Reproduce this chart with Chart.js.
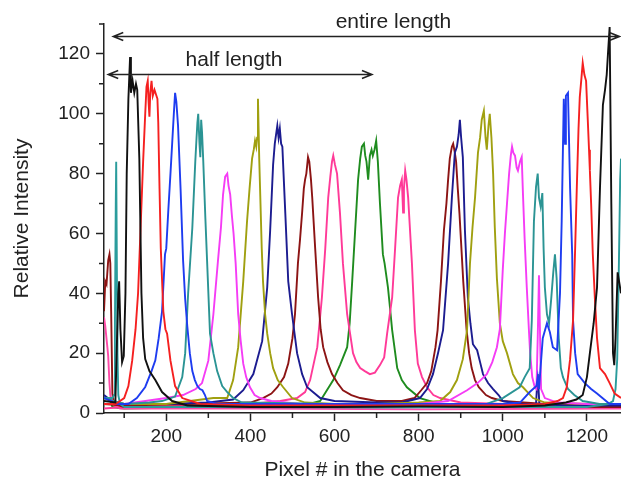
<!DOCTYPE html>
<html>
<head>
<meta charset="utf-8">
<script src="https://cdn.jsdelivr.net/npm/chart.js@4/dist/chart.umd.min.js"></script>
<style>
  html, body { margin: 0; padding: 0; background: #fff; overflow: hidden; }
  #wrap { width: 621px; height: 483px; }
</style>
</head>
<body>
<div id="wrap"><canvas id="spectra" width="621" height="483"></canvas></div>
<script>
// axis ticks
const xTickValues = [200, 400, 600, 800, 1000, 1200];
const xMinorTicks = [100, 300, 500, 700, 900, 1100];
const yTickValues = [0, 20, 40, 60, 80, 100, 120];
const yMinorTicks = [10, 30, 50, 70, 90, 110, 130];

// spectra: [pixel #, relative intensity]
const maroonEdge = [[52,34],[55,44],[58,43],[62,51],[65,53],[67,50],[69,34],[72,6.5],[76,3],[100,2],[400,2.2],[800,2],[1281,2]];
const pinkEdge = [[52,32],[55,29],[60,22],[62,19],[65,10],[67,6],[72,3],[90,1.5],[400,1.5],[800,1.2],[1281,1.5]];
const tealSpike = [[52,5],[72,5],[76,6],[78,30],[80,70],[81,84],[83,40],[84,20],[86,6],[90,3],[100,2],[300,2],[700,1.8],[1000,2],[1200,2],[1250,3],[1262,4],[1268,8],[1272,18],[1276,50],[1279,78],[1281,85]];
const black = [[52,4],[79,3.5],[83,25],[86,40],[88,44],[91,28],[95,17],[99,19],[103,40],[106,80],[110,105],[114,119],[116,107],[120,111],[124,107],[128,110],[131,108],[136,85],[141,40],[145,25],[150,18],[160,14],[174,11],[190,7],[214,4],[250,2.5],[400,2],[600,2],[800,2.2],[1000,2],[1100,2.5],[1150,3.5],[1175,4.5],[1190,6],[1200,12],[1207,20],[1216,30],[1224,42],[1231,75],[1238,103],[1243,108],[1247,113],[1250,120],[1254,129],[1258,70],[1262,20],[1265,16],[1268,25],[1273,47],[1281,40]];
const red = [[52,3],[80,3],[90,4],[100,5],[110,9],[119,17.5],[127,28],[133,40],[139,62],[145,84],[150,100],[153,109],[156,111],[158,104],[160,99],[162,107],[165,111],[168,106],[172,108],[179,105],[181,97],[184,75],[187,55],[193,34],[198,28],[202,26.5],[206,22],[210,17.5],[221,9],[238,5],[281,3],[400,2.5],[700,2.5],[1000,2.5],[1100,3],[1130,4],[1143,5],[1152,8.6],[1160,18],[1167,31],[1172,55],[1176,75.6],[1180,95],[1183,105.6],[1187,112],[1190,117],[1194,113],[1198,111],[1202,98],[1205,88],[1207,81],[1210,70],[1214,53],[1219,38],[1224,25],[1231,15],[1243,13],[1254,10],[1266,6.5],[1281,5]];
const blue = [[52,5],[70,4],[80,3],[110,3],[130,5],[150,8.7],[165,14],[174,17.6],[182,25],[190,34],[197,53],[200,55],[205,68],[210,80],[214,90],[218,100],[221,107],[224,104],[228,96],[234,75],[240,51],[245,38],[250,29],[256,20],[262,14],[268,11],[274,9],[280,8],[286,7.6],[292,6],[297,4],[320,3],[600,3],[900,3],[1000,3],[1041,3.5],[1064,7],[1080,9],[1083,12],[1086,8],[1095,25],[1105,30],[1112,27],[1119,22],[1129,21],[1136,40],[1140,64],[1145,105],[1148,90],[1150,106],[1155,107],[1160,75],[1165,53],[1167,31],[1172,20],[1178,13],[1195,10],[1210,8],[1224,6.5],[1254,3],[1281,3]];
const teal = [[52,5],[75,4],[100,3],[160,3.5],[190,4],[221,5.5],[238,12],[245,20],[252,40],[262,62],[269,84],[272,92],[274,97],[276,100],[279,90],[281,85.5],[283,98],[285,94],[288,84],[293,65],[297,51],[304,26.5],[312,20],[321,14],[333,9],[345,7],[359,5],[380,3.5],[600,3],[900,2.5],[960,3],[1000,5],[1040,8.6],[1052,12],[1064,15],[1069,31],[1074,64],[1079,75.6],[1083,80],[1086,72],[1090,69],[1094,73.5],[1097,55],[1100,42],[1105,33],[1110,30],[1115,38],[1120,47],[1124,53],[1128,45],[1133,25],[1138,15],[1143,12],[1155,8],[1170,6],[1190,4],[1230,3],[1281,3]];
const magenta = [[52,3],[100,3],[150,4],[200,5],[240,6],[270,8],[285,10],[300,17.5],[312,33],[323,51],[330,62],[335,73],[340,79],[345,80],[348,76],[352,73],[356,66],[360,60],[365,50],[371,33],[377,24],[383,16.5],[390,12],[399,8.6],[410,6],[423,5],[450,4],[520,3],[800,3],[870,4],[915,7.6],[940,10],[962,13],[975,17],[986,22],[993,28],[1000,48],[1005,60],[1010,70],[1015,80],[1019,86],[1022,89],[1025,87],[1029,86],[1033,82],[1036,81],[1041,84],[1045,85.5],[1048,73],[1052,58],[1057,42],[1062,28],[1065,20],[1070,12],[1076,8.6],[1080,8],[1083,25],[1086,46],[1088,30],[1091,8],[1100,5],[1130,3.5],[1200,3],[1281,3]];
const olive = [[52,5],[70,4],[100,3],[200,3],[312,5],[345,5],[359,11],[371,22],[383,44],[392,64],[398,75],[404,85],[408,88],[411,91],[414,89],[416,92],[418,105],[421,85],[423,75],[427,55],[430,44],[435,33],[440,26.5],[447,20],[454,15],[465,11],[478,8.6],[499,5],[530,3.5],[600,3],[700,3],[800,3.5],[851,4],[875,7],[891,11],[905,18],[915,27.7],[922,50],[928,62],[934,72],[941,87],[946,92],[950,98],[955,101],[959,92],[962,88],[966,96],[969,100],[973,92],[977,80],[981,62],[986,45],[993,30],[1000,24],[1010,20],[1024,13],[1036,10],[1048,8.6],[1072,5],[1100,3.5],[1200,3],[1281,3]];
const navy = [[52,6],[70,4],[100,3],[200,3],[300,3.5],[359,4.5],[383,7.6],[407,13],[428,24],[440,42],[447,61],[454,83],[458,90],[462,94],[464,96],[467,92],[470,95],[473,90],[476,89],[483,66.7],[490,44],[499,33],[511,20],[523,13],[535,8.6],[566,5],[600,4],[700,3.5],[760,3.5],[803,5],[820,8],[834,13],[846,20],[858,27.7],[870,50],[879,72],[886,87],[891,89],[895,93],[898,98],[901,92],[905,85.5],[910,61],[917,38.6],[923,30],[929,23],[939,21],[946,17],[953,13],[965,10],[977,8],[990,6],[1000,4],[1040,3],[1079,3],[1083,13],[1087,3],[1150,2.5],[1281,2.5]];
const maroon = [[52,3],[100,2.5],[250,3],[400,3.5],[430,5],[450,6.5],[464,8.6],[480,12],[490,16.5],[500,25],[506,33],[513,50],[518,58],[523,67],[527,75],[530,78],[533,80],[537,85.5],[540,84],[544,78],[547,72],[554,55],[561,38.6],[567,28],[573,22],[583,17],[594,13],[607,10],[620,7.6],[640,6],[661,5],[700,4],[760,4],[790,5],[806,7.6],[820,10],[830,14],[840,22],[845,27.7],[853,44],[860,61],[866,70],[870,78],[874,85],[879,89],[882,90],[886,87],[889,84],[893,75],[897,66.7],[906,44],[914,27.7],[920,20],[926,15],[934,11],[943,8.6],[960,6],[974,5],[1000,4],[1100,3],[1200,3],[1281,3]];
const hotPink = [[52,1.5],[100,2],[300,2.5],[400,3],[471,4],[511,5],[530,7],[542,11],[559,22],[570,38.6],[578,55],[585,72],[590,79],[594,84],[597,86],[601,83],[606,80],[613,66.7],[620,50],[630,33],[637,26.5],[644,20],[652,17],[661,15],[672,14],[684,13],[696,13.5],[708,16],[718,18.6],[725,26.5],[737,38.6],[744,55],[751,72],[756,76],[760,78],[763,67],[765,75],[768,81],[771,78],[775,72],[784,50],[791,27.7],[798,16.5],[808,12],[820,8.6],[835,6],[851,5],[900,3.5],[1000,3],[1100,2.5],[1281,2.5]];
const green = [[52,5],[66,5],[72,2],[100,1.5],[300,2],[450,2.5],[540,3],[566,4],[597,11],[613,16],[630,22],[636,30],[642,44],[649,61],[656,78],[661,85],[665,89],[670,90],[673,86],[676,84],[680,78],[684,86],[688,88],[691,86],[695,88],[699,91],[703,84],[708,70],[715,53],[719,50],[722,47],[727,42],[732,35],[737,27.7],[749,15],[760,11],[772,8.6],[803,5],[850,3],[950,2.5],[1100,2],[1281,2]];

// annotation arrows (in data units)
const entireLength = { from: 74, to: 1277, level: 126, label: 'entire length', labelAt: 740 };
const halfLength = { from: 62, to: 689, level: 113.3, label: 'half length', labelAt: 361 };

const series = [
  { data: black, color: '#111111' },
  { data: red, color: '#f52020' },
  { data: blue, color: '#1e3cf0' },
  { data: teal, color: '#2b9494' },
  { data: tealSpike, color: '#2b9c9c' },
  { data: magenta, color: '#f53cf5' },
  { data: olive, color: '#a0a010' },
  { data: navy, color: '#1c1c90' },
  { data: maroon, color: '#8c1414' },
  { data: maroonEdge, color: '#8c1414' },
  { data: hotPink, color: '#ff3a98' },
  { data: pinkEdge, color: '#ff4aa8' },
  { data: green, color: '#1f8c1f' }
];

const axisColor = '#222';
const fontFamily = '"Liberation Sans", Arial, Helvetica, sans-serif';

const extras = {
  id: 'extras',
  afterDraw(chart) {
    const { ctx, chartArea, scales: { x, y } } = chart;
    ctx.save();
    ctx.strokeStyle = axisColor;
    ctx.lineWidth = 1.5;
    // minor ticks
    ctx.beginPath();
    xMinorTicks.forEach(v => {
      const px = x.getPixelForValue(v);
      ctx.moveTo(px, chartArea.bottom);
      ctx.lineTo(px, chartArea.bottom + 5);
    });
    yMinorTicks.forEach(v => {
      const py = y.getPixelForValue(v);
      ctx.moveTo(chartArea.left, py);
      ctx.lineTo(chartArea.left - 5, py);
    });
    ctx.stroke();

    // double headed arrows with labels
    ctx.fillStyle = axisColor;
    ctx.font = '21px ' + fontFamily;
    ctx.textAlign = 'center';
    ctx.textBaseline = 'alphabetic';
    [entireLength, halfLength].forEach(a => {
      const x1 = x.getPixelForValue(a.from);
      const x2 = x.getPixelForValue(a.to);
      const yy = Math.round(y.getPixelForValue(a.level)) + 0.5;
      ctx.beginPath();
      ctx.moveTo(x1, yy); ctx.lineTo(x2, yy);
      ctx.moveTo(x1 + 10, yy - 4); ctx.lineTo(x1, yy); ctx.lineTo(x1 + 10, yy + 4);
      ctx.moveTo(x2 - 10, yy - 4); ctx.lineTo(x2, yy); ctx.lineTo(x2 - 10, yy + 4);
      ctx.stroke();
      ctx.fillText(a.label, x.getPixelForValue(a.labelAt), yy - 9);
    });
    ctx.restore();
  }
};

new Chart(document.getElementById('spectra'), {
  type: 'line',
  data: {
    datasets: series.map(s => ({
      data: s.data.map(p => ({ x: p[0], y: p[1] })),
      borderColor: s.color,
      borderWidth: 1.9,
      pointRadius: 0,
      tension: 0,
      fill: false
    }))
  },
  options: {
    responsive: false,
    animation: false,
    layout: { padding: { top: 24, right: 0, left: 0, bottom: 0 } },
    plugins: { legend: { display: false }, tooltip: { enabled: false } },
    scales: {
      x: {
        type: 'linear',
        min: 52,
        max: 1281,
        afterBuildTicks: axis => { axis.ticks = xTickValues.map(v => ({ value: v })); },
        afterFit: scale => { scale.height = 70; },
        grid: { display: true, drawOnChartArea: false, tickLength: 8, tickColor: axisColor, tickWidth: 1.5 },
        border: { color: axisColor, width: 1.5 },
        ticks: { color: axisColor, padding: 4, maxRotation: 0, callback: v => String(v), font: { family: fontFamily, size: 19 } },
        title: { display: true, text: 'Pixel # in the camera', color: axisColor, padding: { top: 0, bottom: 0 }, font: { family: fontFamily, size: 21 } }
      },
      y: {
        min: 0,
        max: 130,
        afterBuildTicks: axis => { axis.ticks = yTickValues.map(v => ({ value: v })); },
        afterFit: scale => { scale.width = 104; },
        grid: { display: true, drawOnChartArea: false, tickLength: 8, tickColor: axisColor, tickWidth: 1.5 },
        border: { color: axisColor, width: 1.5 },
        ticks: { color: axisColor, padding: 6, callback: v => String(v), font: { family: fontFamily, size: 19 } },
        title: { display: true, text: 'Relative Intensity', color: axisColor, padding: { top: 10, bottom: 0 }, font: { family: fontFamily, size: 21 } }
      }
    }
  },
  plugins: [extras]
});
</script>
</body>
</html>
